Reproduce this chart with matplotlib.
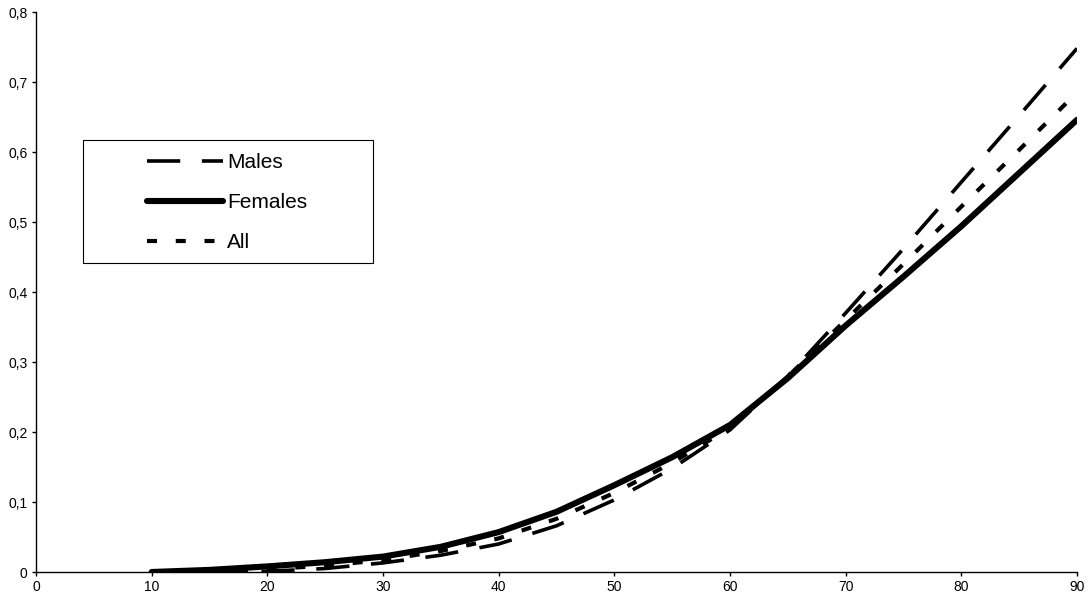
import matplotlib
matplotlib.use("Agg")
import matplotlib.pyplot as plt
from matplotlib.patches import Rectangle
from matplotlib.ticker import FuncFormatter

plt.rcParams["font.family"] = ["Liberation Sans", "DejaVu Sans"]

ages = [10, 15, 20, 25, 30, 35, 40, 45, 50, 55, 60, 65, 70, 75, 80, 85, 90]
males = [0.0, 0.0, 0.001, 0.005, 0.013, 0.024, 0.040, 0.066, 0.103, 0.148, 0.203, 0.280, 0.370, 0.462, 0.557, 0.652, 0.748]
females = [0.0, 0.003, 0.008, 0.014, 0.022, 0.036, 0.057, 0.086, 0.124, 0.164, 0.210, 0.277, 0.352, 0.422, 0.494, 0.570, 0.646]
all_ = [0.0, 0.001, 0.004, 0.009, 0.017, 0.030, 0.048, 0.076, 0.113, 0.156, 0.206, 0.279, 0.360, 0.440, 0.522, 0.603, 0.685]

fig = plt.figure(figsize=(10.88, 6.02), dpi=100)
ax = fig.add_axes([36 / 1088, 30 / 602, 1041 / 1088, 560 / 602])

l_m, = ax.plot(ages, males, color="black", linewidth=2.6, dashes=(9.2, 6), label="Males")
l_f, = ax.plot(ages, females, color="black", linewidth=4.4, solid_capstyle="round",
               solid_joinstyle="round", label="Females")
l_a, = ax.plot(ages, all_, color="black", linewidth=3.0, dashes=(2.4, 4.5), label="All")

ax.set_xlim(0, 90)
ax.set_ylim(0, 0.8)
ax.set_xticks(range(0, 91, 10))
ax.set_yticks([i / 10 for i in range(9)])
ax.yaxis.set_major_formatter(FuncFormatter(lambda v, p: "0" if v == 0 else f"{v:.1f}".replace(".", ",")))
for side in ("top", "right"):
    ax.spines[side].set_visible(False)
for side in ("left", "bottom"):
    ax.spines[side].set_linewidth(1.0)
ax.tick_params(direction="out", length=3, width=1, labelsize=10, pad=3)
ax.margins(0)

fig.patches.append(Rectangle((83 / 1088, 1 - 263 / 602), 290 / 1088, 123 / 602,
                             transform=fig.transFigure, fill=False, edgecolor="black", linewidth=0.8))
fig.legend(handles=[l_m, l_f, l_a], loc="upper left", bbox_to_anchor=(147 / 1088, 1 - 153 / 602),
           bbox_transform=fig.transFigure, frameon=False, borderpad=0, borderaxespad=0,
           handlelength=3.65, handletextpad=0.2, labelspacing=1.02, fontsize=15)

fig.savefig("out.png", dpi=100)
